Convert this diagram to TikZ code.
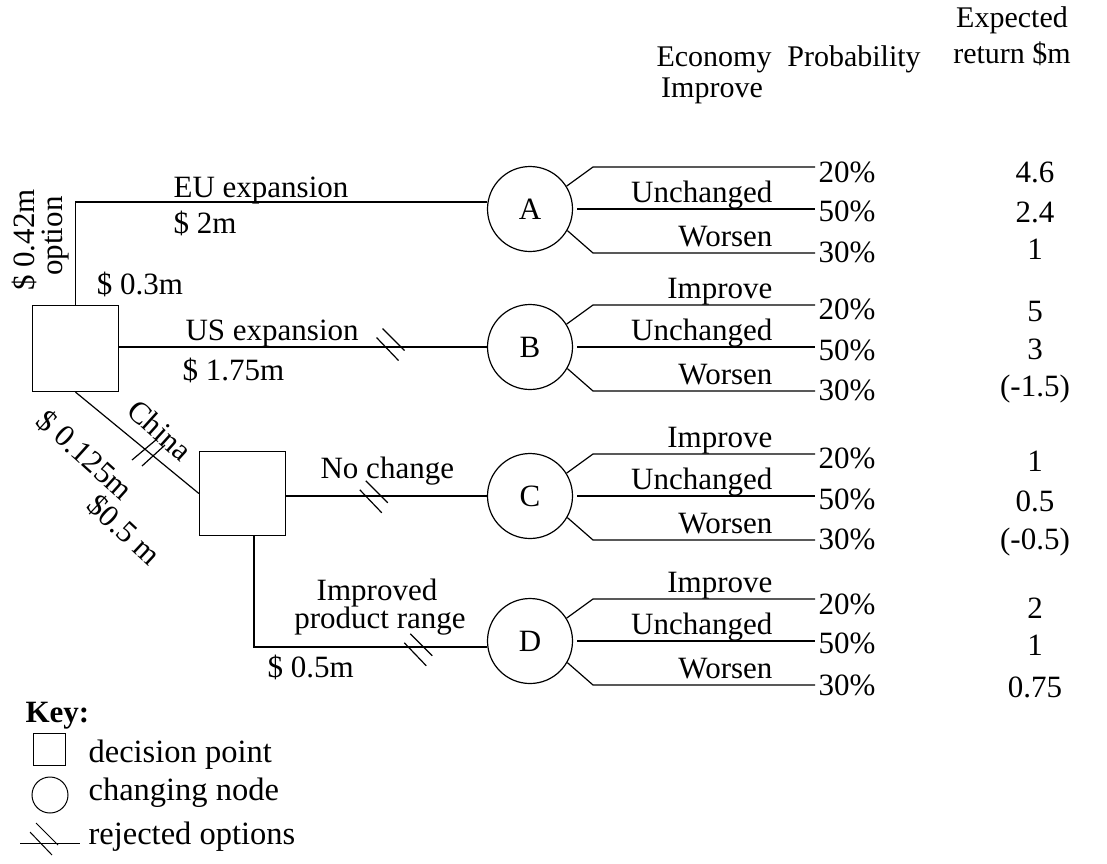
\documentclass[tikz,border=0pt]{standalone}
\usepackage{fontspec}
\setmainfont{Liberation Serif}
\begin{document}
\begin{tikzpicture}[x=1pt,y=-1pt,line width=1.2pt,
  every node/.style={inner sep=0pt,font=\fontsize{31}{36}\selectfont},
  dbox/.style={draw,rectangle,minimum width=86pt,minimum height=86pt},
  chance/.style={draw,circle,minimum size=85pt},
  lbl/.style={anchor=base east},
  pct/.style={anchor=west},
  val/.style={anchor=center},
  txt/.style={anchor=base west},
  hdr/.style={anchor=base,font=\fontsize{30}{34}\selectfont},
  keytxt/.style={anchor=base west,font=\fontsize{32.5}{36}\selectfont},
  rejmark/.pic={\draw (-14,-7)--(8,16); \draw (-8,-16)--(14,6);}
]
\path[use as bounding box,fill=white] (0,0) rectangle (1107,863);

% decision points and chance nodes
\node[dbox] (d1) at (75.5,348.5) {};
\node[dbox,minimum height=84pt] (d2) at (242.5,493.5) {};
\node[chance] (A) at (530,209) {A};
\node[chance] (B) at (530,347) {B};
\node[chance] (C) at (530,496) {C};
\node[chance] (D) at (530,641) {D};

% main connectors
\draw (d1.north) |- ([yshift=7pt]A.west);
\draw (d1.east |- B.west) -- (B.west);
\draw (d1.south) -- (d2.west);
\draw (d2.east |- C.west) -- (C.west);
\draw ([xshift=11.5pt]d2.south) |- ([yshift=-6pt]D.west);

% branches
\foreach \n/\c in {A/209,B/347,C/496,D/641}{
  \coordinate (\n k1) at (593,{\c-42});
  \coordinate (\n e1) at (815,{\c-42});
  \coordinate (\n e2) at (815,\c);
  \coordinate (\n k3) at (593,{\c+44});
  \coordinate (\n e3) at (815,{\c+44});
  \draw (\n.32) -- (\n k1) -- (\n e1);
  \draw ([xshift=4pt]\n.east) -- (\n e2);
  \draw (\n.-30) -- (\n k3) -- (\n e3);
}

% branch labels
\node[lbl] (lA2) at (773,202) {Unchanged};
\node[lbl] (lA3) at (773,246) {Worsen};
\node[lbl] (lB1) at (773,298) {Improve};
\node[lbl] (lB2) at (773,340) {Unchanged};
\node[lbl] (lB3) at (773,384) {Worsen};
\node[lbl] (lC1) at (773,447) {Improve};
\node[lbl] (lC2) at (773,489) {Unchanged};
\node[lbl] (lC3) at (773,533) {Worsen};
\node[lbl] (lD1) at (773,592) {Improve};
\node[lbl] (lD2) at (773,634) {Unchanged};
\node[lbl] (lD3) at (773,678) {Worsen};

% probabilities
\node[pct] (pA1) at (818,172) {20\%};
\node[pct] (pA2) at (818,211) {50\%};
\node[pct] (pA3) at (818,252) {30\%};
\node[pct] (pB1) at (818,309) {20\%};
\node[pct] (pB2) at (818,350) {50\%};
\node[pct] (pB3) at (818,390) {30\%};
\node[pct] (pC1) at (818,458) {20\%};
\node[pct] (pC2) at (818,499) {50\%};
\node[pct] (pC3) at (818,539) {30\%};
\node[pct] (pD1) at (818,604) {20\%};
\node[pct] (pD2) at (818,643) {50\%};
\node[pct] (pD3) at (818,685) {30\%};

% expected returns
\node[val] (vA1) at (1035,172) {4.6};
\node[val] (vA2) at (1035,212) {2.4};
\node[val] (vA3) at (1035,249) {1};
\node[val] (vB1) at (1035,311) {5};
\node[val] (vB2) at (1035,349) {3};
\node[val] (vB3) at (1035,389) {(-1.5)};
\node[val] (vC1) at (1035,461) {1};
\node[val] (vC2) at (1035,501) {0.5};
\node[val] (vC3) at (1035,542) {(-0.5)};
\node[val] (vD1) at (1035,608) {2};
\node[val] (vD2) at (1035,645) {1};
\node[val] (vD3) at (1035,687) {0.75};

% headers
\node[hdr] (h1) at (714,66) {Economy};
\node[hdr] (h2) at (712,97) {Improve};
\node[hdr] (h3) at (854,66) {Probability};
\node[hdr] (h4) at (1012,27) {Expected};
\node[hdr] (h5) at (1012,63) {return \$m};

% option labels
\node[txt] (t1) at (173,197) {EU expansion};
\node[txt] (t2) at (173,233) {\$ 2m};
\node[anchor=center,rotate=90] (t3) at (24,240) {\$ 0.42m};
\node[anchor=center,rotate=90] (t4) at (56,236) {option};
\node[anchor=center] (t5) at (140,284) {\$ 0.3m};
\node[txt] (t6) at (185,340) {US expansion};
\node[txt] (t7) at (182,380) {\$ 1.75m};
\node[anchor=center,rotate=-42] (t8) at (160,430) {China};
\node[anchor=center,rotate=-42] (t9) at (85,455) {\$ 0.125m};
\node[anchor=center,rotate=-43] (t10) at (124,530) {\$0.5 m};
\node[txt] (t11) at (320,478) {No change};
\node[anchor=base] (t12) at (377,600) {Improved};
\node[anchor=base] (t13) at (380,628) {product range};
\node[txt] (t14) at (267,677) {\$ 0.5m};

% rejected marks
\pic at (390.5,344.5) {rejmark};
\pic at (373.75,496.75) {rejmark};
\pic at (418.25,649.75) {rejmark};
\draw (132,460) -- (157,439);
\draw (142,466) -- (165,445);

% key
\node[anchor=base west,font=\fontsize{31}{36}\selectfont\bfseries] (key) at (25,722) {Key:};
\node[draw,rectangle,minimum size=32pt,line width=1pt] (ks) at (49,749) {};
\node[keytxt] (kt1) at (88,762) {decision point};
\node[draw,circle,minimum size=36pt,line width=1pt] (kc) at (50,795) {};
\node[keytxt] (kt2) at (88,800) {changing node};
\coordinate (kl1) at (20,843);
\coordinate (kl2) at (80,843);
\draw[line width=1pt] (kl1) -- (kl2);
\pic[line width=1pt] at (44,839) {rejmark};
\node[keytxt] (kt3) at (88,844) {rejected options};
\end{tikzpicture}
\end{document}
